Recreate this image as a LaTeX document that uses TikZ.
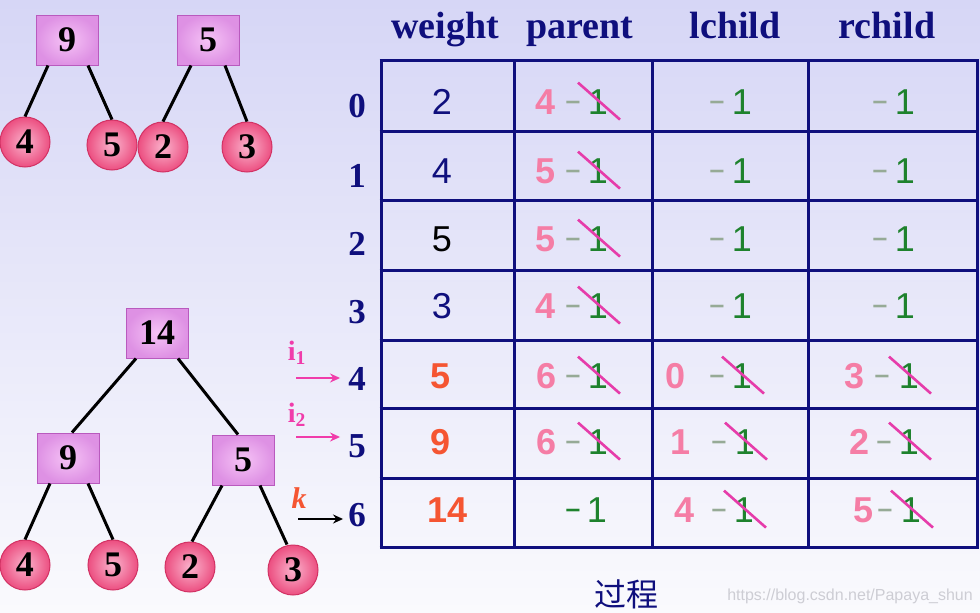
\documentclass[tikz,border=0pt]{standalone}
\usepackage{fontspec}
\setmainfont{Liberation Serif}
\newfontfamily\sansf{Liberation Sans}
\newfontfamily\cjkf{Noto Sans CJK SC}
\usetikzlibrary{arrows.meta}
\definecolor{navyc}{RGB}{15,15,125}
\definecolor{pinkc}{RGB}{245,125,165}
\definecolor{greenc}{RGB}{30,130,45}
\definecolor{minusc}{RGB}{150,170,150}
\definecolor{strikec}{RGB}{230,60,170}
\definecolor{orangec}{RGB}{245,85,50}
\definecolor{arrowpink}{RGB}{240,60,170}
\definecolor{ballin}{RGB}{250,180,205}
\definecolor{ballout}{RGB}{236,78,128}
\definecolor{balledge}{RGB}{210,50,100}
\definecolor{boxin}{RGB}{246,195,246}
\definecolor{boxout}{RGB}{222,145,228}
\definecolor{boxedge}{RGB}{185,90,190}
\definecolor{bgtop}{RGB}{214,214,246}
\definecolor{bgbot}{RGB}{250,250,253}
\definecolor{wmark}{RGB}{205,205,212}
\newcommand{\StruckCell}[6]{%
  \node[pinknum] (#1d) at (#3,#6) {#2};
  \node[minusn] (#1m) at (#4,#6) {\scalebox{0.75}[1]{−}};
  \node[onen] (#1o) at (#5,#6) {1};
  \draw[strikeline] ([shift={(-20,-19)}]#1o.center) -- ([shift={(22,18)}]#1o.center);
}
\newcommand{\PlainCell}[4]{%
  \node[minusn] (#1m) at (#2,#4) {\scalebox{0.75}[1]{−}};
  \node[onen] (#1o) at (#3,#4) {1};
}
\tikzset{
  hdr/.style={anchor=base, inner sep=0, text=navyc, font=\bfseries\fontsize{38}{38}\selectfont},
  rowlab/.style={anchor=base, inner sep=0, text=navyc, font=\bfseries\fontsize{35}{35}\selectfont},
  wnum/.style={anchor=base, inner sep=0, font=\sansf\fontsize{36}{36}\selectfont},
  wbold/.style={anchor=base, inner sep=0, text=orangec, font=\sansf\bfseries\fontsize{36}{36}\selectfont},
  pinknum/.style={anchor=base, inner sep=0, text=pinkc, font=\sansf\bfseries\fontsize{36}{36}\selectfont},
  minusn/.style={anchor=base, inner sep=0, text=minusc, font=\sansf\fontsize{36}{36}\selectfont},
  onen/.style={anchor=base, inner sep=0, text=greenc, font=\sansf\fontsize{36}{36}\selectfont},
  strikeline/.style={draw=strikec, line width=2.6pt},
  tbl/.style={draw=navyc, line width=3pt},
  tbox/.style={rectangle, minimum width=62pt, minimum height=50pt, inner sep=0,
     inner color=boxin, outer color=boxout, draw=boxedge, line width=1pt,
     font=\bfseries\fontsize{36}{36}\selectfont},
  tball/.style={circle, minimum size=50pt, inner sep=0, inner color=ballin, outer color=ballout,
     draw=balledge, line width=1pt, font=\bfseries\fontsize{36}{36}\selectfont},
  tedge/.style={draw=black, line width=3pt},
  parr/.style={draw=arrowpink, line width=2.4pt, -{Stealth[length=10pt,width=9pt]}},
  karr/.style={draw=black, line width=2.4pt, -{Stealth[length=10pt,width=9pt]}},
  ilab/.style={anchor=base, inner sep=0, text=arrowpink, font=\bfseries\fontsize{28}{28}\selectfont},
}
\begin{document}
\begin{tikzpicture}[x=1pt,y=-1pt]
\useasboundingbox (0,0) rectangle (980,613);
\shade[top color=bgtop, bottom color=bgbot] (0,0) rectangle (980,613);

% ---------- top trees ----------
\node[tbox] (t9) at (67,40) {9};
\node[tbox] (t5) at (208,40) {5};
\node[tball] (t9a) at (25,142) {4};
\node[tball] (t9b) at (112,145) {5};
\node[tball] (t5a) at (163,147) {2};
\node[tball] (t5b) at (247,147) {3};
\draw[tedge] ([xshift=-19pt]t9.south) -- (t9a.north);
\draw[tedge] ([xshift=21pt]t9.south) -- (t9b.north);
\draw[tedge] ([xshift=-17pt]t5.south) -- (t5a.north);
\draw[tedge] ([xshift=17pt]t5.south) -- (t5b.north);

% ---------- bottom tree ----------
\node[tbox] (b14) at (157,333) {14};
\node[tbox] (b9) at (68,458) {9};
\node[tbox] (b5) at (243,460) {5};
\node[tball] (b4l) at (25,565) {4};
\node[tball] (b5l) at (113,565) {5};
\node[tball] (b2l) at (190,567) {2};
\node[tball] (b3l) at (293,570) {3};
\draw[tedge] ([xshift=-21pt]b14.south) -- ([xshift=4pt]b9.north);
\draw[tedge] ([xshift=21pt]b14.south) -- ([xshift=-5pt]b5.north);
\draw[tedge] ([xshift=-18pt]b9.south) -- (b4l.north);
\draw[tedge] ([xshift=20pt]b9.south) -- (b5l.north);
\draw[tedge] ([xshift=-21pt]b5.south) -- ([xshift=2pt]b2l.north);
\draw[tedge] ([xshift=17pt]b5.south) -- ([xshift=-6pt]b3l.north);

% ---------- table ----------
\foreach \yy in {60,131,200,270,340,408,478,547}
  \draw[tbl] (379.5,\yy) -- (978.5,\yy);
\foreach \xx in {381,514,652,808,977}
  \draw[tbl] (\xx,60) -- (\xx,547);

\node[hdr] (hw) at (445,38) {weight};
\node[hdr] (hp) at (580,38) {parent};
\node[hdr] (hl) at (735,38) {lchild};
\node[hdr] (hr) at (887,38) {rchild};

\node[rowlab] (r0) at (357,117) {0};
\node[rowlab] (r1) at (357,187) {1};
\node[rowlab] (r2) at (357,255) {2};
\node[rowlab] (r3) at (357,323) {3};
\node[rowlab] (r4) at (357,390) {4};
\node[rowlab] (r5) at (357,457) {5};
\node[rowlab] (r6) at (357,526) {6};

% weight column
\node[wnum, text=navyc] (w0) at (442,114) {2};
\node[wnum, text=navyc] (w1) at (442,183) {4};
\node[wnum, text=black] (w2) at (442,251) {5};
\node[wnum, text=navyc] (w3) at (442,318) {3};
\node[wbold] (w4) at (441,388) {5};
\node[wbold] (w5) at (441,454) {9};
\node[wbold] (w6) at (448,522) {14};

% parent column
\StruckCell{p0}{4}{546}{573}{598}{114}
\StruckCell{p1}{5}{546}{573}{598}{183}
\StruckCell{p2}{5}{546}{573}{598}{251}
\StruckCell{p3}{4}{546}{573}{598}{318}
\StruckCell{p4}{6}{547}{573}{598}{388}
\StruckCell{p5}{6}{547}{573}{598}{454}
\node[minusn, text=greenc] (p6m) at (573,522) {\scalebox{0.75}[1]{−}};
\node[onen] (p6o) at (597,522) {1};

% lchild column
\PlainCell{l0}{717}{742}{114}
\PlainCell{l1}{717}{742}{183}
\PlainCell{l2}{717}{742}{251}
\PlainCell{l3}{717}{742}{318}
\StruckCell{l4}{0}{676}{717}{742}{388}
\StruckCell{l5}{1}{681}{719}{745}{454}
\StruckCell{l6}{4}{685}{719}{744}{522}

% rchild column
\PlainCell{c0}{880}{905}{114}
\PlainCell{c1}{880}{905}{183}
\PlainCell{c2}{880}{905}{251}
\PlainCell{c3}{880}{905}{318}
\StruckCell{c4}{3}{855}{882}{909}{388}
\StruckCell{c5}{2}{860}{884}{909}{454}
\StruckCell{c6}{5}{864}{885}{911}{522}

% pointers
\node[ilab] (i1) at (297,360) {i\textsubscript{1}};
\node[ilab] (i2) at (297,422) {i\textsubscript{2}};
\node[anchor=base, inner sep=0, text=orangec, font=\bfseries\itshape\fontsize{30}{30}\selectfont] (kk) at (299,508) {k};
\coordinate (i1s) at (296,378);
\coordinate (i2s) at (296,437);
\coordinate (ks) at (298,519);
\coordinate (i1e) at ([xshift=-8pt]r4.west |- i1s);
\coordinate (i2e) at ([xshift=-8pt]r5.west |- i2s);
\coordinate (ke) at ([xshift=-5pt]r6.west |- ks);
\draw[parr] (i1s) -- (i1e);
\draw[parr] (i2s) -- (i2e);
\draw[karr] (ks) -- (ke);

% caption and watermark
\node[text=navyc, font=\cjkf\fontsize{32}{32}\selectfont, inner sep=0] (cap) at (626,594) {过程};
\node[text=wmark, font=\sansf\fontsize{16}{16}\selectfont, inner sep=0] (wm) at (850,596) {https://blog.csdn.net/Papaya\_shun};
\end{tikzpicture}
\end{document}
